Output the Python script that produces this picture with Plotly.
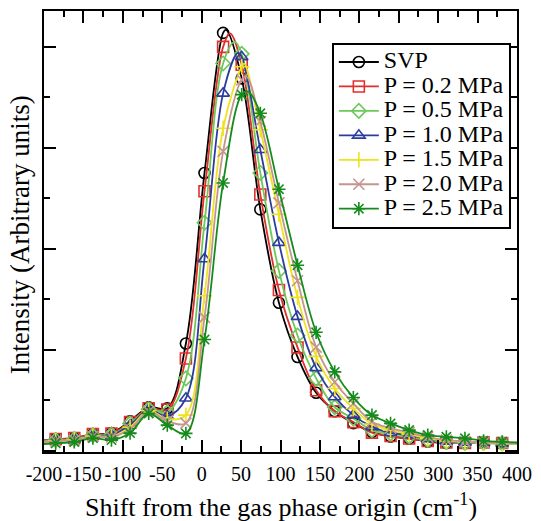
import plotly.graph_objects as go

# Raman shift positions of the plotted symbols (cm^-1)
shift_markers = [-185.2, -161.6, -138.0, -114.4, -90.8, -67.2, -43.6, -20.0, 3.6, 27.2,
                 50.8, 74.4, 98.0, 121.6, 145.2, 168.8, 192.4, 216.0, 239.6, 263.2,
                 286.8, 310.4, 334.0, 357.6, 381.2]

# Intensity at the symbol positions, one list per pressure
svp = [0.118, 0.128, 0.167, 0.177, 0.295, 0.433, 0.423, 1.064, 2.752, 4.138,
       3.688, 2.391, 1.468, 0.931, 0.576, 0.394, 0.276, 0.187, 0.143, 0.123,
       0.094, 0.079, 0.079, 0.084, 0.079]
p02 = [0.118, 0.128, 0.167, 0.172, 0.286, 0.423, 0.409, 0.916, 2.571, 4.000,
       3.823, 2.539, 1.593, 1.025, 0.601, 0.394, 0.286, 0.182, 0.148, 0.123,
       0.099, 0.084, 0.079, 0.084, 0.079]
p05 = [0.108, 0.118, 0.157, 0.162, 0.271, 0.414, 0.384, 0.719, 2.259, 3.836,
       3.931, 2.752, 1.783, 1.143, 0.719, 0.433, 0.322, 0.207, 0.174, 0.143,
       0.108, 0.089, 0.079, 0.079, 0.074]
p10 = [0.108, 0.118, 0.153, 0.157, 0.256, 0.409, 0.345, 0.522, 1.901, 3.540,
       3.901, 2.982, 2.062, 1.330, 0.823, 0.535, 0.355, 0.239, 0.180, 0.158,
       0.118, 0.094, 0.084, 0.079, 0.074]
p15 = [0.103, 0.113, 0.148, 0.143, 0.236, 0.399, 0.315, 0.355, 1.537, 3.195,
       3.803, 3.179, 2.342, 1.520, 0.936, 0.618, 0.421, 0.266, 0.207, 0.167,
       0.123, 0.099, 0.089, 0.079, 0.074]
p20 = [0.099, 0.108, 0.143, 0.138, 0.217, 0.389, 0.296, 0.276, 1.323, 2.966,
       3.675, 3.261, 2.456, 1.685, 1.028, 0.683, 0.470, 0.289, 0.227, 0.182,
       0.138, 0.108, 0.094, 0.084, 0.079]
p25 = [0.076, 0.089, 0.128, 0.108, 0.177, 0.371, 0.256, 0.174, 1.103, 2.653,
       3.527, 3.343, 2.591, 1.839, 1.175, 0.783, 0.529, 0.355, 0.273, 0.207,
       0.158, 0.141, 0.125, 0.101, 0.091]

# Band maximum of each curve (shift, intensity)
peak_shift = [31.0, 36.0, 42.0, 46.0, 54.0, 57.0, 59.0]
peak_value = [4.167, 4.133, 4.049, 3.941, 3.833, 3.704, 3.557]

# Curve values at the two ends of the shift window (-200 and 400 cm^-1)
edge_left = [0.108, 0.108, 0.103, 0.099, 0.094, 0.089, 0.069]
edge_right = [0.074, 0.074, 0.069, 0.069, 0.069, 0.074, 0.084]

labels = ["SVP", "P = 0.2 MPa", "P = 0.5 MPa", "P = 1.0 MPa",
          "P = 1.5 MPa", "P = 2.0 MPa", "P = 2.5 MPa"]
series = [svp, p02, p05, p10, p15, p20, p25]

x_ticks = [-200, -150, -100, -50, 0, 50, 100, 150, 200, 250, 300, 350, 400]
x_tick_text = ["-200", "-150", "-100", "-50", "0", "50", "100", "150",
               "200", "250", "300", "350", "400"]

SERIF = "Liberation Serif, Times New Roman, Times, serif"

colors = ["#000000", "#e0302c", "#6cc85a", "#2c3c9e", "#efe21e", "#c4948f", "#148c1c"]
symbols = ["circle-open", "square-open", "diamond-open", "triangle-up-open",
           "cross-thin-open", "x-thin-open", "asterisk-open"]

fig = go.Figure()

for i, vals in enumerate(series):
    pts = sorted(list(zip(shift_markers, vals))
                 + [(peak_shift[i], peak_value[i]), (-200.0, edge_left[i]), (400.0, edge_right[i])])
    fig.add_trace(go.Scatter(
        x=[p[0] for p in pts], y=[p[1] for p in pts], mode="lines",
        line=dict(color=colors[i], width=1.8, shape="spline", smoothing=1.0),
        showlegend=False, hoverinfo="skip"))
    fig.add_trace(go.Scatter(
        x=shift_markers, y=vals, mode="markers",
        marker=dict(symbol=symbols[i], size=11, color=colors[i],
                    line=dict(color=colors[i], width=1.6)),
        showlegend=False))

# Legend entries (line + symbol); the larger span keeps the rows compact
for i, name in enumerate(labels):
    fig.add_trace(go.Scatter(
        x=[None], y=[None], mode="lines+markers",
        name='<span style="font-size:24px">' + name + "</span>",
        line=dict(color=colors[i], width=1.8),
        marker=dict(symbol=symbols[i], size=11, color=colors[i],
                    line=dict(color=colors[i], width=1.6))))

axis_common = dict(
    showline=True, linecolor="black", linewidth=2, mirror="ticks",
    ticks="inside", ticklen=12, tickwidth=1.5, tickcolor="black",
    showgrid=False, zeroline=False,
)

fig.update_xaxes(
    range=[-200, 400], tickmode="array", tickvals=x_ticks, ticktext=x_tick_text,
    tickfont=dict(size=20, family=SERIF, color="black"), ticklabelstandoff=3,
    minor=dict(ticks="inside", ticklen=6, tickwidth=1.5, tickcolor="black",
               tickmode="linear", tick0=-200, dtick=25, showgrid=False),
    **axis_common)
fig.update_yaxes(
    range=[-0.01, 4.355], tickmode="linear", tick0=0, dtick=1, showticklabels=False,
    minor=dict(ticks="inside", ticklen=6, tickwidth=1.5, tickcolor="black",
               tickmode="linear", tick0=0, dtick=0.5, showgrid=False),
    **axis_common)

fig.update_layout(
    width=541, height=521,
    margin=dict(l=44, r=20, t=9, b=69),
    plot_bgcolor="white", paper_bgcolor="white",
    font=dict(family=SERIF, color="black"),
    legend=dict(x=0.987, xanchor="right", y=0.928, yanchor="top",
                bordercolor="black", borderwidth=2, bgcolor="white",
                font=dict(size=16.5, family=SERIF, color="black"),
                tracegroupgap=0, itemwidth=40),
    annotations=[
        dict(text="Intensity (Arbitrary units)", xref="paper", yref="paper",
             x=-0.0503, y=0.492, textangle=-90, showarrow=False,
             xanchor="center", yanchor="middle",
             font=dict(size=27, family=SERIF, color="black")),
        dict(text="Shift from the gas phase origin (cm<sup>-1</sup>)",
             xref="paper", yref="paper", x=0.5, y=-0.122, showarrow=False,
             xanchor="center", yanchor="middle",
             font=dict(size=26, family=SERIF, color="black")),
    ],
)

fig.write_html("out.html")
